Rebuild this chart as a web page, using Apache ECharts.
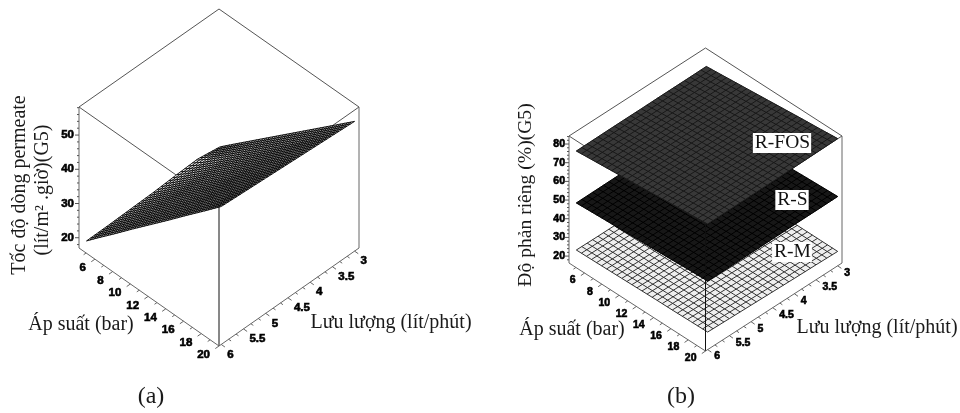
<!DOCTYPE html>
<html><head><meta charset="utf-8">
<style>html,body{margin:0;padding:0;background:#fff}#c{width:960px;height:413px}</style>
<script src="https://cdn.jsdelivr.net/npm/echarts@6/dist/echarts.min.js"></script>
</head><body><div id="c"></div>
<script>
// ---- data ----
const pressures = [4.8, 6, 8, 10, 12, 14, 16, 18, 20];
const flows = [3, 3.5, 4, 4.5, 5, 5.5, 6];
const permeateFlux = [
  [19.9, 20.9, 20.6, 20.2, 20.0, 19.8, 19.7],
  [22.7, 23.2, 23.1, 22.9, 22.8, 22.7, 22.7],
  [27.3, 27.6, 27.6, 27.6, 27.6, 27.6, 27.6],
  [31.9, 32.1, 32.3, 32.4, 32.5, 32.5, 32.6],
  [36.5, 36.7, 36.9, 37.1, 37.3, 37.4, 37.5],
  [41.1, 41.3, 41.6, 41.8, 42.1, 42.3, 42.4],
  [45.7, 45.9, 46.3, 46.6, 46.9, 47.2, 47.4],
  [50.3, 50.6, 51.0, 51.3, 51.7, 52.0, 52.3],
  [54.9, 55.3, 55.7, 56.1, 56.5, 56.9, 57.3]
];
const rFos = [
  [77.7, 77.6, 77.6, 77.5, 77.5, 77.4, 77.3],
  [78.2, 78.1, 78.1, 78.0, 78.0, 77.9, 77.8],
  [79.1, 79.0, 78.9, 78.9, 78.8, 78.7, 78.6],
  [80.0, 79.8, 79.7, 79.7, 79.6, 79.5, 79.4],
  [80.9, 80.7, 80.6, 80.5, 80.4, 80.3, 80.2],
  [81.8, 81.6, 81.4, 81.3, 81.2, 81.1, 81.0],
  [82.7, 82.4, 82.3, 82.1, 82.0, 81.9, 81.9],
  [83.5, 83.3, 83.1, 82.9, 82.8, 82.7, 82.7],
  [84.4, 84.2, 84.0, 83.8, 83.7, 83.6, 83.5]
];
const rS = [
  [50.0, 49.9, 49.9, 49.8, 49.7, 49.6, 49.5],
  [50.3, 50.2, 50.2, 50.1, 50.0, 49.9, 49.8],
  [50.8, 50.7, 50.6, 50.5, 50.5, 50.4, 50.3],
  [51.2, 51.1, 51.0, 50.9, 50.9, 50.8, 50.7],
  [51.6, 51.5, 51.4, 51.4, 51.3, 51.2, 51.2],
  [52.1, 52.0, 51.9, 51.8, 51.8, 51.7, 51.6],
  [52.6, 52.4, 52.3, 52.3, 52.2, 52.2, 52.1],
  [53.0, 52.9, 52.8, 52.7, 52.6, 52.6, 52.6],
  [53.4, 53.3, 53.3, 53.2, 53.1, 53.0, 53.0]
];
const rM = [
  [24.0, 24.0, 24.1, 24.1, 24.2, 24.2, 24.3],
  [24.0, 24.1, 24.1, 24.2, 24.3, 24.3, 24.4],
  [24.0, 24.1, 24.2, 24.3, 24.4, 24.5, 24.6],
  [24.0, 24.1, 24.2, 24.4, 24.5, 24.6, 24.8],
  [24.0, 24.2, 24.3, 24.5, 24.6, 24.8, 25.0],
  [24.0, 24.2, 24.4, 24.5, 24.8, 25.0, 25.2],
  [24.0, 24.2, 24.4, 24.6, 24.9, 25.1, 25.3],
  [24.0, 24.2, 24.5, 24.7, 25.0, 25.3, 25.5],
  [24.0, 24.3, 24.5, 24.8, 25.1, 25.4, 25.7]
];
const pressureLabels = [6, 8, 10, 12, 14, 16, 18, 20];
const flowLabels = ['6', '5.5', '5', '4.5', '4', '3.5', '3'];
const fluxTicks = [20, 30, 40, 50];
const rejectionTicks = [20, 30, 40, 50, 60, 70, 80];
const surfaceNames = ['R-M', 'R-S', 'R-FOS'];

// ---- axis ranges of the two boxes ----
const pressureRange = [4.2, 20];
const flowRange = [2.9, 6.05];
const fluxRange = [17, 58.2];
const rejectionRange = [16.3, 84.3];

// ---- layout: each box is a hidden cartesian grid in projected units ----
const panelA = {grid:0, left:79, width:280, top:8, height:338, unitY:98, boxH:141, zr:fluxRange,
  zTicks:fluxTicks, zMinor:2, lblFont:'bold 11.5px "Liberation Sans"', pOff:[-9,9], fOff:[6,10], zLblX:-5};
const panelB = {grid:1, left:569, width:273, top:49, height:302, unitY:88, boxH:127, zr:rejectionRange,
  zTicks:rejectionTicks, zMinor:2, lblFont:'bold 10.5px "Liberation Sans"', pOff:[-9,7.5], fOff:[6.5,7], zLblX:-4};

function U(p){return (pressureRange[1]-p)/(pressureRange[1]-pressureRange[0]);}
function V(f){return (flowRange[1]-f)/(flowRange[1]-flowRange[0]);}
function proj(pn,u,v,z){
  const w=(z-pn.zr[0])/(pn.zr[1]-pn.zr[0]);
  return [v-u, u+v+w*pn.boxH/pn.unitY];
}
function rowAt(m,p){
  let i=0; while(i<pressures.length-2 && p>pressures[i+1]) i++;
  const t=(p-pressures[i])/(pressures[i+1]-pressures[i]);
  return flows.map((_,j)=>m[i][j]*(1-t)+m[i+1][j]*t);
}
function colAt(m,f){
  let j=0; while(j<flows.length-2 && f>flows[j+1]) j++;
  const t=(f-flows[j])/(flows[j+1]-flows[j]);
  return pressures.map((_,i)=>m[i][j]*(1-t)+m[i][j+1]*t);
}

function surfaceSeries(pn,m,name,fill,stroke,lw,nP,nF){
  return {type:'custom',name,xAxisIndex:pn.grid,yAxisIndex:pn.grid,silent:true,animation:false,clip:false,
    data:[[0,0]],
    renderItem(params,api){
      const c=(p,f,z)=>api.coord(proj(pn,U(p),V(f),z));
      const last=pressures.length-1, lf=flows.length-1;
      const outline=[];
      flows.forEach((f,j)=>outline.push(c(pressures[0],f,m[0][j])));
      pressures.forEach((p,i)=>outline.push(c(p,flows[lf],m[i][lf])));
      for(let j=lf;j>=0;j--) outline.push(c(pressures[last],flows[j],m[last][j]));
      for(let i=last;i>=0;i--) outline.push(c(pressures[i],flows[0],m[i][0]));
      const kids=[{type:'polygon',shape:{points:outline},style:{fill,stroke:fill,lineWidth:.5}}];
      const ls={fill:null,stroke,lineWidth:lw};
      for(let k=0;k<=nP;k++){
        const p=pressures[0]+(pressures[last]-pressures[0])*k/nP, r=rowAt(m,p);
        kids.push({type:'polyline',shape:{points:flows.map((f,j)=>c(p,f,r[j]))},style:ls});
      }
      for(let k=0;k<=nF;k++){
        const f=flows[0]+(flows[lf]-flows[0])*k/nF, r=colAt(m,f);
        kids.push({type:'polyline',shape:{points:pressures.map((p,i)=>c(p,f,r[i]))},style:ls});
      }
      return {type:'group',children:kids};
    }};
}

function segs(list,stroke,lw){
  return list.map(s=>({type:'line',shape:{x1:s[0][0],y1:s[0][1],x2:s[1][0],y2:s[1][1]},style:{stroke,lineWidth:lw}}));
}

// box edges lying behind the surfaces
function boxBack(pn){
  return {type:'custom',xAxisIndex:pn.grid,yAxisIndex:pn.grid,silent:true,animation:false,clip:false,data:[[0,0]],
    renderItem(params,api){
      const t=pn.zr[1];
      const a=(u,v)=>api.coord(proj(pn,u,v,t));
      return {type:'group',children:segs([[a(1,0),a(1,1)],[a(1,1),a(0,1)],[a(0,1),a(0,0)],[a(0,0),a(1,0)]],'#555',1)};
    }};
}
// axes, ticks, tick labels and upright edges, in front of the surfaces
function boxFront(pn){
  return {type:'custom',xAxisIndex:pn.grid,yAxisIndex:pn.grid,silent:true,animation:false,clip:false,data:[[0,0]],
    renderItem(params,api){
      const lo=pn.zr[0], hi=pn.zr[1];
      const a=(u,v,z)=>api.coord(proj(pn,u,v,z));
      const kids=[];
      kids.push(...segs([[a(1,0,lo),a(1,0,hi)],[a(0,1,lo),a(0,1,hi)]],'#666',1));
      kids.push(...segs([[a(0,0,lo),a(0,0,hi)]],'#111',1));
      kids.push(...segs([[a(1,0,lo),a(0,0,lo)],[a(0,0,lo),a(0,1,lo)]],'#666',1));
      // pressure ticks, pointing along the flow axis
      for(let p=5;p<=20;p++){
        const q=a(U(p),0,lo), L=(p%2===0)?4.5:3;
        kids.push(...segs([[q,[q[0]-L*.82,q[1]+L*.57]]],'#666',1));
      }
      pressureLabels.forEach(p=>{
        const q=a(U(p),0,lo);
        kids.push({type:'text',x:q[0]+pn.pOff[0],y:q[1]+pn.pOff[1],
          style:{text:String(p),font:pn.lblFont,fill:'#000',align:'right',verticalAlign:'middle',stroke:'#000',lineWidth:.6}});
      });
      // flow ticks, pointing along the pressure axis
      for(let n=0;n<=18;n++){
        const f=6-n/6, q=a(0,V(f),lo), L=(n%3===0)?4.5:3;
        kids.push(...segs([[q,[q[0]+L*.82,q[1]+L*.57]]],'#666',1));
      }
      flowLabels.forEach(s=>{
        const q=a(0,V(+s),lo);
        kids.push({type:'text',x:q[0]+pn.fOff[0],y:q[1]+pn.fOff[1],
          style:{text:s,font:pn.lblFont,fill:'#000',align:'left',verticalAlign:'middle',stroke:'#000',lineWidth:.6}});
      });
      // value ticks on the left upright edge
      for(let z=Math.ceil(lo/pn.zMinor)*pn.zMinor;z<=hi;z+=pn.zMinor){
        const q=a(1,0,z), L=(z%10===0)?4:2;
        kids.push(...segs([[q,[q[0]-L,q[1]]]],'#555',1));
      }
      pn.zTicks.forEach(z=>{
        const q=a(1,0,z);
        kids.push({type:'text',x:q[0]+pn.zLblX,y:q[1],
          style:{text:String(z),font:pn.lblFont,fill:'#000',align:'right',verticalAlign:'middle',stroke:'#000',lineWidth:.6}});
      });
      return {type:'group',children:kids};
    }};
}

const serif='"Liberation Serif"';
function txt(text,x,y,size,extra){
  return Object.assign({type:'text',x,y,silent:true,z:20,
    style:{text,font:size+'px '+serif,fill:'#1a1a1a',align:'center',verticalAlign:'middle'}},extra||{});
}
function tag(text,x,y){
  return {type:'text',x,y,silent:true,z:20,style:{text,font:'19.5px '+serif,fill:'#111',align:'center',verticalAlign:'middle',
    backgroundColor:'#fff',padding:[0,1,0,2]}};
}

const hiddenAxis=(i,min,max)=>({gridIndex:i,type:'value',min,max,show:false,splitLine:{show:false}});
const chart=echarts.init(document.getElementById('c'),null,{renderer:'canvas',devicePixelRatio:1});
chart.setOption({
  animation:false,backgroundColor:'#fff',
  tooltip:{show:false},legend:{show:false},
  grid:[panelA,panelB].map(p=>({left:p.left,top:p.top,width:p.width,height:p.height})),
  xAxis:[hiddenAxis(0,-1,1),hiddenAxis(1,-1,1)],
  yAxis:[hiddenAxis(0,0,panelA.height/panelA.unitY),hiddenAxis(1,0,panelB.height/panelB.unitY)],
  series:[
    boxBack(panelA),
    surfaceSeries(panelA,permeateFlux,'Tốc độ dòng permeate','#fff','#000',.9,40,34),
    boxFront(panelA),
    boxBack(panelB),
    surfaceSeries(panelB,rM,surfaceNames[0],'#efefef','#333',1,26,24),
    surfaceSeries(panelB,rS,surfaceNames[1],'#171717','#000',1,26,24),
    surfaceSeries(panelB,rFos,surfaceNames[2],'#383838','#181818',1,26,24),
    boxFront(panelB)
  ],
  graphic:[
    txt('Tốc độ dòng permeate',20,185,20,{rotation:Math.PI/2}),
    txt('(lít/m² .giờ)(G5)',43,190,20,{rotation:Math.PI/2}),
    txt('Áp suất (bar)',81,325,20),
    txt('Lưu lượng (lít/phút)',391,323,20),
    txt('(a)',151,397,24),
    txt('Độ phản riêng (%)(G5)',526,195,19.6,{rotation:Math.PI/2}),
    txt('Áp suất (bar)',572,330,20),
    txt('Lưu lượng (lít/phút)',877,328,20),
    txt('(b)',681,397,24),
    tag('R-FOS',782,143),
    tag('R-S',792,200),
    tag('R-M',792,252)
  ]
});
</script></body></html>
